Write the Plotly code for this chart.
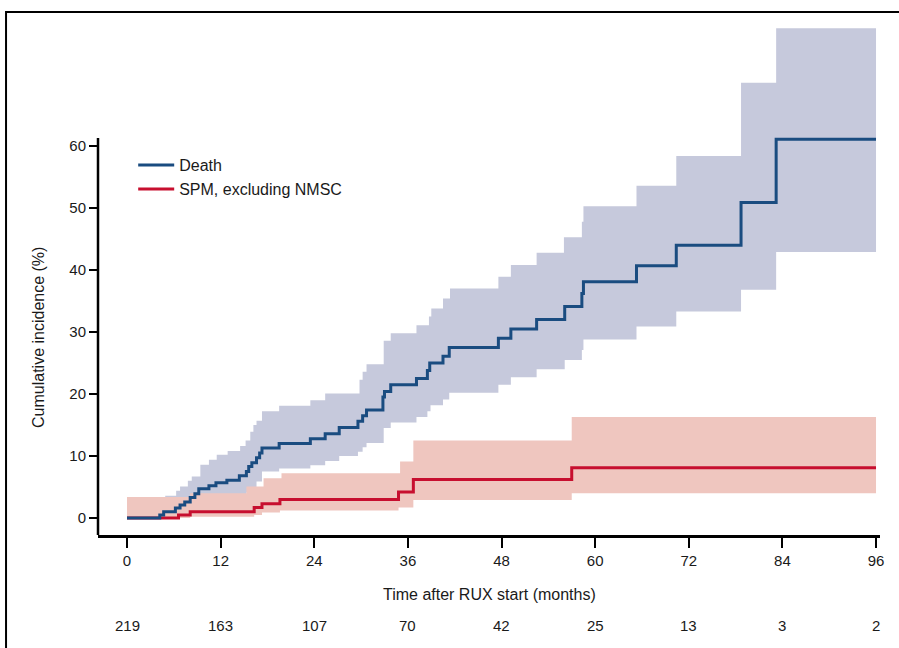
import plotly.graph_objects as go

# ---------------- data ----------------
months_ticks = [0, 12, 24, 36, 48, 60, 72, 84, 96]
at_risk = [219, 163, 107, 70, 42, 25, 13, 3, 2]
y_ticks = [0, 10, 20, 30, 40, 50, 60]

death_t = [0, 4.2, 4.7, 6.2, 6.8, 7.4, 8.1, 8.7, 9.2, 10.5, 11.4, 12.8, 14.4, 15.3, 15.6, 16.0,
           16.6, 17.0, 17.3, 19.5, 23.5, 25.4, 27.2, 29.6, 30.2, 30.7, 32.8, 33.0, 33.8, 37.1,
           38.5, 38.8, 40.5, 41.3, 47.6, 49.2, 52.5, 56.1, 58.3, 58.5, 65.3, 70.4, 78.7, 83.2, 96]
death_v = [0, 0.5, 1.0, 1.6, 2.1, 2.6, 3.3, 3.9, 4.7, 5.2, 5.7, 6.1, 6.8, 7.5, 8.3, 8.9,
           9.7, 10.5, 11.3, 12.0, 12.8, 13.6, 14.6, 15.6, 16.5, 17.4, 19.5, 20.4, 21.5, 22.5,
           23.8, 25.0, 26.1, 27.5, 29.0, 30.5, 32.0, 34.1, 36.2, 38.1, 40.7, 44.0, 50.9, 61.1, 61.1]

death_up_t = [0, 4.2, 4.9, 6.3, 6.8, 7.8, 8.3, 9.4, 10.5, 11.5, 12.9, 14.5, 15.2, 15.8, 16.2,
              16.6, 17.3, 19.5, 23.5, 25.4, 29.8, 30.2, 30.7, 32.9, 33.8, 37.1, 38.7, 39.0,
              40.5, 41.4, 47.6, 49.2, 52.5, 56.0, 58.3, 58.5, 65.3, 70.4, 78.7, 83.2, 96]
death_up_v = [0, 2.4, 3.6, 4.4, 5.1, 6.0, 6.7, 8.6, 9.4, 10.2, 10.8, 11.6, 12.5, 13.9, 15.0,
              15.7, 17.2, 18.1, 19.0, 20.1, 22.3, 23.6, 24.8, 28.6, 29.8, 31.1, 32.5, 33.8,
              35.4, 37.0, 38.9, 40.8, 42.8, 45.3, 47.8, 50.3, 53.6, 58.4, 70.2, 79.0, 79.0]

death_lo_t = [0, 6.2, 8.1, 9.2, 10.5, 11.4, 12.8, 14.4, 15.3, 16.0, 16.6, 17.3, 19.5, 23.5,
              25.4, 27.2, 29.6, 30.2, 30.7, 32.9, 33.8, 37.1, 38.5, 38.9, 40.5, 41.3, 47.6,
              49.2, 52.5, 56.1, 58.3, 58.5, 65.3, 70.4, 78.7, 83.2, 96]
death_lo_v = [0, 0.3, 0.8, 1.4, 1.8, 2.2, 2.6, 3.2, 4.1, 4.8, 5.9, 7.5, 8.0, 8.5,
              9.2, 10.0, 10.7, 11.4, 12.1, 14.5, 15.4, 16.3, 17.2, 18.2, 19.1, 20.2, 21.5,
              22.7, 24.0, 25.5, 27.1, 28.8, 30.9, 33.3, 36.8, 42.9, 42.9]

spm_t = [0, 6.6, 8.1, 16.3, 17.3, 19.6, 34.8, 36.7, 57.0, 96]
spm_v = [0, 0.5, 1.0, 1.7, 2.3, 3.0, 4.2, 6.2, 8.1, 8.1]

spm_up_t = [0, 8.1, 15.3, 17.5, 19.8, 35.0, 36.7, 57.0, 96]
spm_up_v = [3.4, 4.0, 5.1, 6.4, 7.2, 9.1, 12.5, 16.3, 16.3]

spm_lo_t = [0, 8.1, 16.3, 17.3, 19.6, 34.8, 36.7, 57.0, 96]
spm_lo_v = [0, 0.2, 0.5, 0.9, 1.2, 1.7, 2.9, 4.0, 4.0]

# ---------------- style ----------------
BLUE = "#1a4c80"
BLUE_BAND = "#c6c9dc"
RED = "#c70f2f"
RED_BAND = "#efc6bf"
REG = "Liberation Sans, Arial, Helvetica, sans-serif"
TXT = "#1a1a1a"

fig = go.Figure()

# death CI band
fig.add_trace(go.Scatter(x=death_lo_t, y=death_lo_v, mode="lines", line=dict(width=0, shape="hv"),
                         showlegend=False, hoverinfo="skip"))
fig.add_trace(go.Scatter(x=death_up_t, y=death_up_v, mode="lines", line=dict(width=0, shape="hv"),
                         fill="tonexty", fillcolor=BLUE_BAND, showlegend=False, hoverinfo="skip"))
# SPM CI band
fig.add_trace(go.Scatter(x=spm_lo_t, y=spm_lo_v, mode="lines", line=dict(width=0, shape="hv"),
                         showlegend=False, hoverinfo="skip"))
fig.add_trace(go.Scatter(x=spm_up_t, y=spm_up_v, mode="lines", line=dict(width=0, shape="hv"),
                         fill="tonexty", fillcolor=RED_BAND, showlegend=False, hoverinfo="skip"))
# lines
fig.add_trace(go.Scatter(x=spm_t, y=spm_v, mode="lines", name="SPM, excluding NMSC",
                         line=dict(color=RED, width=3, shape="hv")))
fig.add_trace(go.Scatter(x=death_t, y=death_v, mode="lines", name="Death",
                         line=dict(color=BLUE, width=3, shape="hv")))

# plot area: x 98..880 px, y 22..535 px
X_RANGE = [-3.717, 96.51]
Y_RANGE = [-2.742, 80.0]

fig.update_layout(
    width=899, height=648,
    margin=dict(l=98, r=19, t=22, b=113),
    paper_bgcolor="white", plot_bgcolor="white",
    showlegend=True,
    legend=dict(x=0.045, y=0.754, xanchor="left", yanchor="top", itemwidth=36,
                traceorder="reversed", bgcolor="rgba(0,0,0,0)",
                font=dict(family=REG, size=16, color=TXT), tracegroupgap=0),
    xaxis=dict(range=X_RANGE, tickvals=months_ticks, ticktext=[str(v) for v in months_ticks],
               showgrid=False, zeroline=False, showline=True, linecolor="black", linewidth=2.5,
               ticks="outside", ticklen=10, tickwidth=2, tickcolor="black",
               tickfont=dict(family=REG, size=15, color=TXT)),
    yaxis=dict(range=Y_RANGE, tickvals=y_ticks, ticktext=[str(v) for v in y_ticks],
               showgrid=False, zeroline=False, showline=False,
               ticks="outside", ticklen=8, tickwidth=2, tickcolor="black",
               tickfont=dict(family=REG, size=15, color=TXT)),
)

# y-axis line only up to just above 60
fig.add_shape(type="line", xref="paper", yref="y", x0=0, x1=0, y0=Y_RANGE[0], y1=61.3,
              line=dict(color="black", width=2.5))

# outer frame
fig.add_shape(type="rect", xref="paper", yref="paper", x0=-0.1176, x1=1.06, y0=-0.3, y1=1.0195,
              line=dict(color="black", width=2), fillcolor="rgba(0,0,0,0)", layer="above")

# axis titles
fig.add_annotation(text="Time after RUX start (months)", xref="paper", yref="paper",
                   x=(489 - 98) / 782, y=(535 - 594) / 513, showarrow=False,
                   font=dict(family=REG, size=16, color=TXT), xanchor="center", yanchor="middle")
fig.add_annotation(text="Cumulative incidence (%)", xref="paper", yref="paper",
                   x=(38 - 98) / 782, y=(535 - 338) / 513, showarrow=False, textangle=-90,
                   font=dict(family=REG, size=16, color=TXT), xanchor="center", yanchor="middle")

# numbers at risk
for t, n in zip(months_ticks, at_risk):
    fig.add_annotation(text=str(n), x=t, xref="x", yref="paper", y=(535 - 625) / 513,
                       showarrow=False, font=dict(family=REG, size=15, color=TXT),
                       xanchor="center", yanchor="middle")

fig.write_html("out.html", config={"displayModeBar": False},
               post_script="document.body.style.margin='0';")
